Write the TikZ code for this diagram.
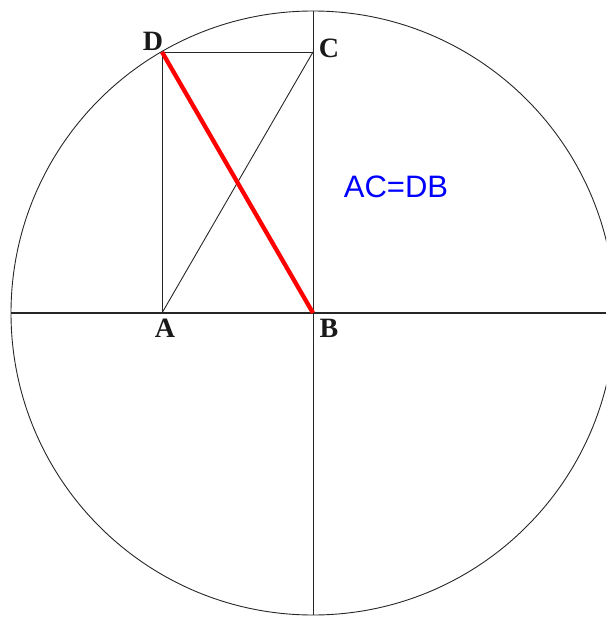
\documentclass[tikz,border=0pt]{standalone}
\usepackage{fontspec}
\setmainfont{Liberation Serif}
\newfontfamily\arialfont{Liberation Sans}
\begin{document}
\begin{tikzpicture}[x=1pt,y=-1pt,
  thinline/.style={line width=0.9pt,draw=black!85},
  axisline/.style={line width=1.1pt,draw=black!85},
  lbl/.style={font=\fontsize{28}{30}\selectfont\bfseries,text=black!90,inner sep=0pt}]
\useasboundingbox (0,0) rectangle (606,617);
\clip (0,0) rectangle (606,617);
\coordinate (O) at (313,313);
\coordinate (A) at (162,313);
\coordinate (B) at (313,313);
\coordinate (C) at (313,52);
\coordinate (D) at (162,52);
\coordinate (L) at (11,313);
\coordinate (R) at (606,313);
\coordinate (T) at (313,11);
\coordinate (Bt) at (313,615);
\draw[thinline] (O) circle (302);
\draw[axisline] (L) -- (R);
\draw[thinline] (T) -- (Bt);
\draw[thinline] (A) -- (D) -- (C);
\draw[thinline] (A) -- (C);
\draw[line width=4.3pt,draw={rgb,255:red,255;green,0;blue,0}] (D) -- (B);
\node[lbl] (lD) at (153,41) {D};
\node[lbl] (lC) at (329,48) {C};
\node[lbl] (lA) at (165,328) {A};
\node[lbl] (lB) at (329,328) {B};
\node[font=\arialfont\fontsize{31}{33}\selectfont,text={rgb,255:red,0;green,0;blue,255},inner sep=0pt] (eq) at (396,187) {AC=DB};
\end{tikzpicture}
\end{document}
